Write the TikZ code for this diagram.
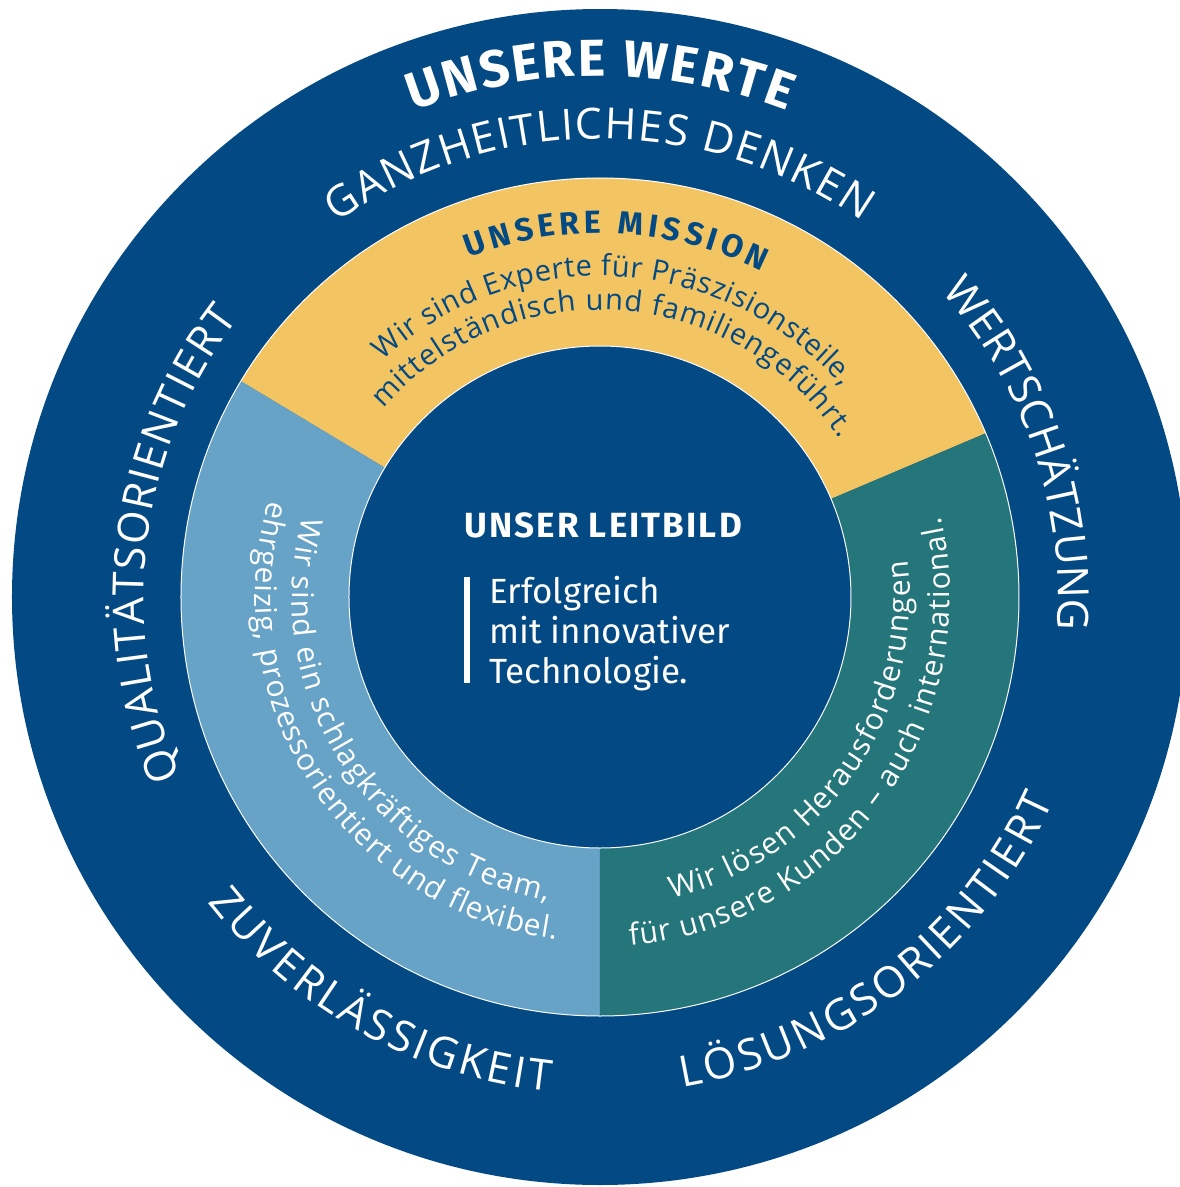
\documentclass[tikz,border=0pt]{standalone}
\usepackage{fontspec}
\usetikzlibrary{decorations.text}
\newfontfamily\osans{Open Sans}
\newfontfamily\fsans{Fira Sans}
\definecolor{dblue}{RGB}{3,73,132}
\definecolor{myellow}{RGB}{242,196,98}
\definecolor{lblue}{RGB}{103,162,199}
\definecolor{tealc}{RGB}{36,118,122}
\newcommand\fVal{\fontsize{43}{43}\selectfont\osans}
\newcommand\fHead{\fontsize{52}{52}\selectfont\fsans\bfseries}
\newcommand\fMisHead{\fontsize{32}{32}\selectfont\fsans\bfseries}
\newcommand\fRing{\fontsize{30}{30}\selectfont\osans}
\newcommand\fMis{\fontsize{29}{29}\selectfont\osans}
\newcommand\arctext[6]{\path[decorate,decoration={text along path,text={|#4|#6},text color=#5,text align={fit to path}}] (#2:#1) arc[start angle=#2,end angle=#3,radius=#1];}
\tikzset{centertext/.style={anchor=base west,text=white,inner sep=0pt,font=\fontsize{35}{35}\selectfont\fsans}}
\begin{document}
\begin{tikzpicture}[x=1pt,y=1pt]
\useasboundingbox (-600,-590) rectangle (580,597);
\clip (-600,-590) rectangle (580,597);
\fill[dblue] (0,0) circle[radius=588];
\fill[myellow] (0,0) -- (149:419) arc[start angle=149,end angle=23,radius=419] -- cycle;
\fill[lblue] (0,0) -- (149:419) arc[start angle=149,end angle=270,radius=419] -- cycle;
\fill[tealc] (0,0) -- (270:419) arc[start angle=270,end angle=383,radius=419] -- cycle;
\draw[white,line width=1] (0,0) circle[radius=419];
\fill[dblue,draw=white,line width=1] (0,0) circle[radius=251];
% values
\arctext{521}{111}{69}{\fHead}{white}{UNSERE WERTE}
\arctext{458}{125.1}{55.1}{\fVal}{white}{GANZHEITLICHES DENKEN}
\arctext{458}{41.8}{-3.5}{\fVal}{white}{WERTSCHÄTZUNG}
\arctext{456}{203.2}{142.4}{\fVal}{white}{QUALITÄTSORIENTIERT}
\arctext{497}{217.9}{264.2}{\fVal}{white}{ZUVERLÄSSIGKEIT}
\arctext{497}{279.6}{335.8}{\fVal}{white}{LÖSUNGSORIENTIERT}
% mission
\arctext{364}{111.1}{63.6}{\fMisHead}{dblue}{UNSERE MISSION}
\arctext{321}{132.5}{41}{\fMis}{dblue}{Wir sind Experte für Präszisionsteile,}
\arctext{287}{139}{33.5}{\fMis}{dblue}{mittelständisch und familiengeführt.}
% team
\arctext{308}{164.9}{260.2}{\fRing}{white}{Wir sind ein schlagkräftiges Team,}
\arctext{345}{163.8}{262.7}{\fRing}{white}{ehrgeizig, prozessorientiert und flexibel.}
% customers
\arctext{310}{283.5}{366.8}{\fRing}{white}{Wir lösen Herausforderungen}
\arctext{350}{274.9}{373.2}{\fRing}{white}{für unsere Kunden – auch international.}
% centre
\node[anchor=base,text=white,inner sep=0pt,font=\fontsize{35}{35}\selectfont\fsans\bfseries\addfontfeatures{LetterSpace=6}] (leitbild) at (3,60) {UNSER LEITBILD};
\fill[white] (-136,20) rectangle (-130,-86);
\node[centertext] (l1) at (-111,-6) {Erfolgreich};
\node[centertext] (l2) at (-111,-46) {mit innovativer};
\node[centertext] (l3) at (-111,-86) {Technologie.};
\end{tikzpicture}
\end{document}
